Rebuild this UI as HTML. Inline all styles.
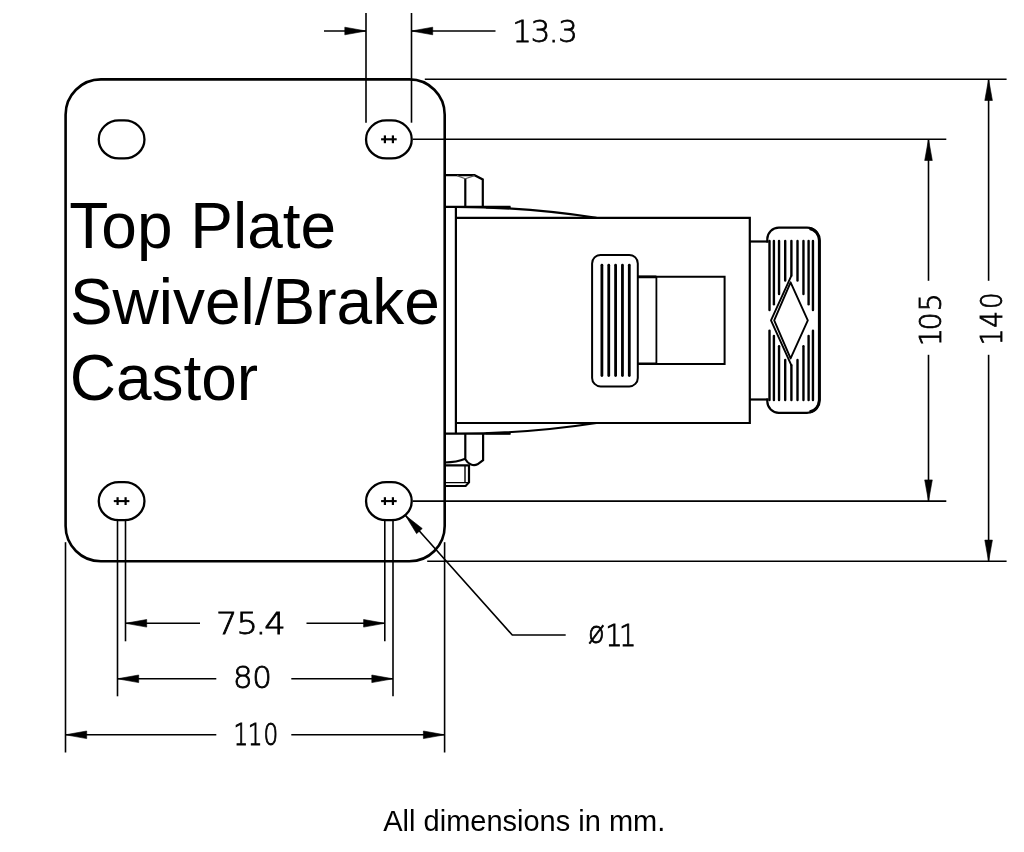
<!DOCTYPE html>
<html lang="en">
<head>
<meta charset="utf-8">
<title>Top Plate Swivel/Brake Castor</title>
<style>
html,body{margin:0;padding:0;background:#fff;}
body{width:1024px;height:852px;overflow:hidden;position:relative;}
svg{display:block;position:absolute;left:0;top:0;will-change:transform;filter:grayscale(1);}
.big{font-family:"Liberation Sans",sans-serif;font-size:64px;fill:#000;stroke:none;}
.cap{font-family:"Liberation Sans",sans-serif;font-size:29px;fill:#000;stroke:none;}
.dim{font-family:"DejaVu Sans Light","DejaVu Sans",sans-serif;font-weight:200;font-size:30.4px;fill:#000;stroke:#000;stroke-width:0.7;}
</style>
</head>
<body>
<svg width="1024" height="852" viewBox="0 0 1024 852" role="img" aria-label="Top Plate Swivel/Brake Castor dimension drawing" fill="none" stroke="#000" stroke-linecap="butt" stroke-linejoin="miter">
<rect x="0" y="0" width="1024" height="852" fill="#fff" stroke="none"/>

<rect x="65.6" y="79.4" width="379.10" height="481.90" rx="35.3" ry="35.3" stroke-width="2.6"/>
<rect x="98.75" y="120.40" width="45.7" height="38.0" rx="20.2" ry="19" stroke-width="2.3"/>
<rect x="366.05" y="120.40" width="45.7" height="38.0" rx="20.2" ry="19" stroke-width="2.3"/>
<line x1="381.1" y1="139.3" x2="396.7" y2="139.3" stroke-width="2.1"/>
<line x1="384.9" y1="135.4" x2="384.9" y2="143.2" stroke-width="2.2"/>
<line x1="392.9" y1="135.4" x2="392.9" y2="143.2" stroke-width="2.2"/>
<rect x="98.75" y="482.20" width="45.7" height="38.0" rx="20.2" ry="19" stroke-width="2.3"/>
<line x1="113.8" y1="501.1" x2="129.4" y2="501.1" stroke-width="2.1"/>
<line x1="117.6" y1="497.2" x2="117.6" y2="505" stroke-width="2.2"/>
<line x1="125.6" y1="497.2" x2="125.6" y2="505" stroke-width="2.2"/>
<rect x="366.05" y="482.20" width="45.7" height="38.0" rx="20.2" ry="19" stroke-width="2.3"/>
<line x1="381.1" y1="501.1" x2="396.7" y2="501.1" stroke-width="2.1"/>
<line x1="384.9" y1="497.2" x2="384.9" y2="505" stroke-width="2.2"/>
<line x1="392.9" y1="497.2" x2="392.9" y2="505" stroke-width="2.2"/>
<line x1="366" y1="13" x2="366" y2="122.7" stroke-width="1.6"/>
<line x1="411.5" y1="13" x2="411.5" y2="122.7" stroke-width="1.6"/>
<line x1="324" y1="31" x2="366" y2="31" stroke-width="1.6"/>
<polygon points="366.00,31.00 344.80,34.80 344.80,27.20" fill="#000" stroke="#000" stroke-width="0.6" stroke-linejoin="round"/>
<line x1="411.5" y1="31" x2="495.5" y2="31" stroke-width="1.6"/>
<polygon points="411.50,31.00 432.70,27.20 432.70,34.80" fill="#000" stroke="#000" stroke-width="0.6" stroke-linejoin="round"/>
<line x1="424.8" y1="79.3" x2="1006.6" y2="79.3" stroke-width="1.6"/>
<line x1="413" y1="139.3" x2="946.3" y2="139.3" stroke-width="1.6"/>
<line x1="413" y1="501.1" x2="946.3" y2="501.1" stroke-width="1.6"/>
<line x1="427.2" y1="561.3" x2="1006.6" y2="561.3" stroke-width="1.6"/>
<line x1="928.5" y1="139.3" x2="928.5" y2="280.8" stroke-width="1.6"/>
<line x1="928.5" y1="354.8" x2="928.5" y2="501.1" stroke-width="1.6"/>
<polygon points="928.50,139.30 932.30,160.50 924.70,160.50" fill="#000" stroke="#000" stroke-width="0.6" stroke-linejoin="round"/>
<polygon points="928.50,501.10 924.70,479.90 932.30,479.90" fill="#000" stroke="#000" stroke-width="0.6" stroke-linejoin="round"/>
<line x1="988.6" y1="79.3" x2="988.6" y2="280.8" stroke-width="1.6"/>
<line x1="988.6" y1="354.8" x2="988.6" y2="561.3" stroke-width="1.6"/>
<polygon points="988.60,79.30 992.40,100.50 984.80,100.50" fill="#000" stroke="#000" stroke-width="0.6" stroke-linejoin="round"/>
<polygon points="988.60,561.30 984.80,540.10 992.40,540.10" fill="#000" stroke="#000" stroke-width="0.6" stroke-linejoin="round"/>
<line x1="125.5" y1="520" x2="125.5" y2="641.3" stroke-width="1.6"/>
<line x1="384.8" y1="520" x2="384.8" y2="641.3" stroke-width="1.6"/>
<line x1="117.5" y1="520" x2="117.5" y2="696.3" stroke-width="1.6"/>
<line x1="393" y1="520" x2="393" y2="696.3" stroke-width="1.6"/>
<line x1="65.5" y1="542.2" x2="65.5" y2="752.5" stroke-width="1.6"/>
<line x1="444.6" y1="542.2" x2="444.6" y2="752.5" stroke-width="1.6"/>
<line x1="125.5" y1="623.3" x2="200" y2="623.3" stroke-width="1.6"/>
<polygon points="125.50,623.30 146.70,619.50 146.70,627.10" fill="#000" stroke="#000" stroke-width="0.6" stroke-linejoin="round"/>
<line x1="306.5" y1="623.3" x2="384.8" y2="623.3" stroke-width="1.6"/>
<polygon points="384.80,623.30 363.60,627.10 363.60,619.50" fill="#000" stroke="#000" stroke-width="0.6" stroke-linejoin="round"/>
<line x1="117.5" y1="678.8" x2="216.3" y2="678.8" stroke-width="1.6"/>
<polygon points="117.50,678.80 138.70,675.00 138.70,682.60" fill="#000" stroke="#000" stroke-width="0.6" stroke-linejoin="round"/>
<line x1="291.3" y1="678.8" x2="393" y2="678.8" stroke-width="1.6"/>
<polygon points="393.00,678.80 371.80,682.60 371.80,675.00" fill="#000" stroke="#000" stroke-width="0.6" stroke-linejoin="round"/>
<line x1="65.5" y1="734.8" x2="216.3" y2="734.8" stroke-width="1.6"/>
<polygon points="65.50,734.80 86.70,731.00 86.70,738.60" fill="#000" stroke="#000" stroke-width="0.6" stroke-linejoin="round"/>
<line x1="291.3" y1="734.8" x2="444.6" y2="734.8" stroke-width="1.6"/>
<polygon points="444.60,734.80 423.40,738.60 423.40,731.00" fill="#000" stroke="#000" stroke-width="0.6" stroke-linejoin="round"/>
<polyline points="405.3,515.3 512.3,635 565.7,635" stroke-width="1.6"/>
<polygon points="405.30,515.30 422.26,528.57 416.60,533.64" fill="#000" stroke="#000" stroke-width="0.6" stroke-linejoin="round"/>
<path d="M455.9,206.8 V433.7 M454.9,217.8 H749.8 V423.0 H454.9" stroke-width="2.2"/>
<path d="M444.5,206.9 H510.5 M456,206.9 A921,921 0 0 1 596.5,217.8" stroke-width="2.2"/>
<path d="M444.5,433.7 H510.5 M456,433.7 A921,921 0 0 0 596.5,423.0" stroke-width="2.2"/>
<line x1="486" y1="207.5" x2="510.5" y2="207.5" stroke-width="2.0"/>
<line x1="486" y1="433.3" x2="510.5" y2="433.3" stroke-width="2.0"/>
<path d="M444.5,175.2 H474.5 L482.8,179.4 V206.9" stroke-width="2.2"/>
<path d="M465.3,206.9 V178.6" stroke-width="2.2"/>
<path d="M465.3,178.8 L457,175.6 M465.3,178.8 L474.5,175.6" stroke-width="1.2" stroke="#555"/>
<path d="M483.1,433.7 V460.2 L477.5,464.3 C473.5,466.3 468.3,464.6 465.3,459.3 V433.7" stroke-width="2.2"/>
<path d="M444.5,462.5 C453,462.4 459.5,461.3 465.3,458.8" stroke-width="2.2"/>
<path d="M444.5,465.3 H469 V482.4 L465.6,486 H444.5" stroke-width="2.2"/>
<path d="M465,465.3 V482.6 M444.5,482.6 H469" stroke-width="1.4"/>
<rect x="592.1" y="254.9" width="45.7" height="131.5" rx="8.5" ry="8.5" stroke-width="2.0"/>
<line x1="601.9" y1="265.2" x2="601.9" y2="375.6" stroke-width="2.8" stroke-linecap="round"/>
<line x1="608.75" y1="265.2" x2="608.75" y2="375.6" stroke-width="2.8" stroke-linecap="round"/>
<line x1="615.6" y1="265.2" x2="615.6" y2="375.6" stroke-width="2.8" stroke-linecap="round"/>
<line x1="622.45" y1="265.2" x2="622.45" y2="375.6" stroke-width="2.8" stroke-linecap="round"/>
<line x1="629.3" y1="265.2" x2="629.3" y2="375.6" stroke-width="2.8" stroke-linecap="round"/>
<path d="M637.8,276.7 H724.6 V364 H637.8" stroke-width="2.0"/>
<path d="M637.8,276.9 H656.4 M637.8,363.8 H656.4" stroke-width="2.6"/>
<line x1="656.4" y1="276.7" x2="656.4" y2="364" stroke-width="1.8"/>
<path d="M767.3,242.5 V239 A11.5,11.5 0 0 1 778.8,227.6 H807 A12.2,12.8 0 0 1 819.2,240.4 V400 A12.2,12.8 0 0 1 807,412.8 H778.8 A11.5,11.5 0 0 1 767.3,401.5 V398.5" stroke-width="2.2"/>
<path d="M809.5,228.4 A11.6,12.2 0 0 1 819.4,240.4 V400 A11.6,12.2 0 0 1 809.5,412" stroke-width="3.0"/>
<line x1="749.8" y1="241.5" x2="768.4" y2="241.5" stroke-width="2.2"/>
<line x1="749.8" y1="399.5" x2="768.4" y2="399.5" stroke-width="2.2"/>
<line x1="769.5" y1="241" x2="769.5" y2="310" stroke-width="2.4" stroke-linecap="round"/>
<line x1="769.5" y1="330.8" x2="769.5" y2="400" stroke-width="2.4" stroke-linecap="round"/>
<line x1="773.9" y1="241" x2="773.9" y2="304.3" stroke-width="2.4" stroke-linecap="round"/>
<line x1="773.9" y1="336" x2="773.9" y2="400" stroke-width="2.4" stroke-linecap="round"/>
<line x1="779.05" y1="241" x2="779.05" y2="294" stroke-width="2.4" stroke-linecap="round"/>
<line x1="779.05" y1="346.3" x2="779.05" y2="400" stroke-width="2.4" stroke-linecap="round"/>
<line x1="785.2" y1="241" x2="785.2" y2="280.5" stroke-width="2.4" stroke-linecap="round"/>
<line x1="785.2" y1="359.9" x2="785.2" y2="400" stroke-width="2.4" stroke-linecap="round"/>
<line x1="791.4" y1="241" x2="791.4" y2="275.6" stroke-width="2.4" stroke-linecap="round"/>
<line x1="791.4" y1="365.3" x2="791.4" y2="400" stroke-width="2.4" stroke-linecap="round"/>
<line x1="797.5" y1="241" x2="797.5" y2="280.5" stroke-width="2.4" stroke-linecap="round"/>
<line x1="797.5" y1="359.9" x2="797.5" y2="400" stroke-width="2.4" stroke-linecap="round"/>
<line x1="803.45" y1="241" x2="803.45" y2="294" stroke-width="2.4" stroke-linecap="round"/>
<line x1="803.45" y1="346.3" x2="803.45" y2="400" stroke-width="2.4" stroke-linecap="round"/>
<line x1="808.6" y1="241" x2="808.6" y2="304.3" stroke-width="2.4" stroke-linecap="round"/>
<line x1="808.6" y1="336" x2="808.6" y2="400" stroke-width="2.4" stroke-linecap="round"/>
<line x1="812.95" y1="241" x2="812.95" y2="310" stroke-width="2.4" stroke-linecap="round"/>
<line x1="812.95" y1="330.8" x2="812.95" y2="400" stroke-width="2.4" stroke-linecap="round"/>
<path d="M790.6,282.3 L807.8,320.4 L790.6,358.4 L774.2,320.4 Z" stroke-width="1.9" stroke-linejoin="round"/>
<path d="M791.4,275.6 L771,320.4 L791.4,365.3" stroke-width="1.9" stroke-linejoin="round"/>
<text class="big" transform="translate(69.3 247.9) scale(1 1.018)">Top Plate</text>
<text class="big" transform="translate(69.9 324.2) scale(1 1.018)">Swivel/Brake</text>
<text class="big" transform="translate(69.7 400.4) scale(1 1.018)">Castor</text>
<text class="cap" x="524.3" y="831" text-anchor="middle">All dimensions in mm.</text>
<text class="dim" style="stroke-width:0.80" transform="translate(0 41.9) scale(1.014 1)" x="505.27 523.40 541.17 550.51" y="0">13.3</text>
<text class="dim" style="stroke-width:0.80" transform="translate(0 633.5) scale(1.111 1)" x="194.44 212.87 229.99 237.82" y="0">75.4</text>
<text class="dim" style="stroke-width:0.80" transform="translate(0 688.3) scale(1.016 1)" x="229.42 248.33" y="0">80</text>
<text class="dim" style="stroke-width:0.94" transform="translate(0 745) scale(0.763 1)" x="306.00 324.73 345.51" y="0">110</text>
<text class="dim" style="stroke-width:0.85" transform="translate(0 646.25) scale(0.900 1)" x="653.45 672.38 687.66" y="-3.00 0.00 0.00">ø11</text>
<text class="dim" style="stroke-width:0.83" transform="translate(941.2 0) rotate(-90) scale(0.940 1)" x="-368.22 -351.69 -331.41" y="0">105</text>
<text class="dim" style="stroke-width:0.88" transform="translate(1001.6 0) rotate(-90) scale(0.858 1)" x="-402.48 -382.00 -360.12" y="0">140</text>
</svg>
</body>
</html>
